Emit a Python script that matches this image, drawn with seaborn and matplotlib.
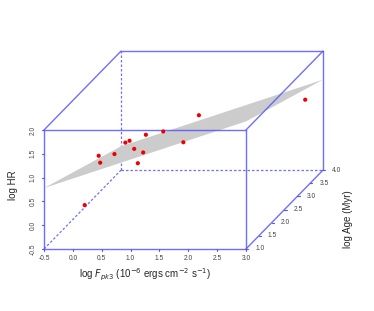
import matplotlib.pyplot as plt
import numpy as np
import pandas as pd
import seaborn as sns

# data (log Age estimated from the oblique projection)
log_fpk3 = [-0.24, -0.22, -0.06, -0.08, 0.02, 0.27, 0.44, 0.64, 0.77, 0.42, 0.81, 1.47, 1.25, 2.87]
log_hr = [-0.13, 0.63, 0.65, 0.50, 0.63, 0.89, 0.83, 0.81, 0.86, 0.85, 1.03, 1.19, 1.15, 1.20]
log_age = [2.0, 2.5, 2.2, 2.8, 3.0, 2.6, 2.4, 2.3, 1.8, 2.9, 2.7, 2.0, 3.1, 3.6]

x_ticks = [-0.5, 0.0, 0.5, 1.0, 1.5, 2.0, 2.5, 3.0]
y_ticks = [-0.5, 0.0, 0.5, 1.0, 1.5, 2.0]
z_ticks = [1.0, 1.5, 2.0, 2.5, 3.0, 3.5, 4.0]

# fitted plane: log HR = a + b * log Fpk3 + c * log Age
plane_coef = (1.24, 0.40, -0.26)

XLIM = (-0.5, 3.0)
YLIM = (-0.5, 2.0)
ZLIM = (1.0, 4.0)
DX, DY = 0.445, 0.5525  # oblique shift of one unit of depth
BOX = "#5555ff"


def proj(x, y, z):
    x, y, z = (np.asarray(v, dtype=float) for v in (x, y, z))
    return x + (z - ZLIM[0]) * DX, y + (z - ZLIM[0]) * DY


sns.set_style("white")
plt.rcParams["font.family"] = ["Liberation Sans", "DejaVu Sans"]
plt.rcParams["mathtext.fontset"] = "dejavusans"

fig = plt.figure(figsize=(3.74, 3.11), dpi=100)
ax = fig.add_axes([0, 0, 1, 1])
ax.set_xlim(-1.2626, 5.219)
ax.set_ylim(-1.8025, 4.731)
ax.axis("off")

x0, x1 = XLIM
y0, y1 = YLIM
z0, z1 = ZLIM

# hidden edges (dashed)
for p0, p1 in [((x0, y0, z0), (x0, y0, z1)),
               ((x0, y0, z1), (x1, y0, z1)),
               ((x0, y0, z1), (x0, y1, z1))]:
    px, py = proj(*zip(p0, p1))
    ax.plot(px, py, color=BOX, lw=0.9, ls=(0, (2, 1.6)), alpha=0.85)

# regression plane
a, b, c = plane_coef
corners = [(x0, z0), (x1, z0), (x1, z1), (x0, z1)]
cx = [p[0] for p in corners]
cz = [p[1] for p in corners]
cy = [a + b * xx + c * zz for xx, zz in corners]
px, py = proj(cx, cy, cz)
ax.fill(px, py, color="#cccccc", lw=0, zorder=2)

# visible edges
for p0, p1 in [((x0, y0, z0), (x1, y0, z0)),
               ((x1, y0, z0), (x1, y1, z0)),
               ((x1, y1, z0), (x0, y1, z0)),
               ((x0, y1, z0), (x0, y0, z0)),
               ((x0, y1, z0), (x0, y1, z1)),
               ((x1, y1, z0), (x1, y1, z1)),
               ((x0, y1, z1), (x1, y1, z1)),
               ((x1, y1, z1), (x1, y0, z1)),
               ((x1, y0, z0), (x1, y0, z1))]:
    px, py = proj(*zip(p0, p1))
    ax.plot(px, py, color=BOX, lw=1.0, alpha=0.85, zorder=3)

# points
px, py = proj(log_fpk3, log_hr, log_age)
df = pd.DataFrame({"px": px, "py": py})
sns.scatterplot(data=df, x="px", y="py", color="#ee0000", s=9,
                edgecolor="none", ax=ax, zorder=4)

tick_kw = dict(fontsize=4.8, color="#444444")
# x axis ticks
for t in x_ticks:
    px, py = proj([t, t], [y0, y0 - 0.035], [z0, z0])
    ax.plot(px, py, color=BOX, lw=0.8, zorder=3)
    ax.text(t, y0 - 0.19, f"{t:.1f}", ha="center", va="center", **tick_kw)
# y axis ticks
for t in y_ticks:
    ax.plot([x0, x0 - 0.035], [t, t], color=BOX, lw=0.8, zorder=3)
    ax.text(x0 - 0.185, t, f"{t:.1f}", ha="center", va="center",
            rotation=90, **tick_kw)
# depth axis ticks
for t in z_ticks:
    px, py = proj([x1, x1 + 0.04], [y0, y0], [t, t])
    ax.plot(px, py, color=BOX, lw=0.8, zorder=3)
    ax.text(px[0] + 0.24, py[0], f"{t:.1f}", ha="center", va="center", **tick_kw)

ax.text((x0 + x1) / 2, y0 - 0.55,
        r"log $F_{pk3}$ (10$^{-6}$ ergs cm$^{-2}$ s$^{-1}$)",
        ha="center", va="center", fontsize=7)
ax.text(x0 - 0.53, 0.85, "log HR", ha="center", va="center",
        rotation=90, fontsize=7)
ax.text(4.77, 0.13, "log Age (Myr)", ha="center", va="center",
        rotation=90, fontsize=7)

fig.savefig("out.png", dpi=100)
plt.close(fig)
